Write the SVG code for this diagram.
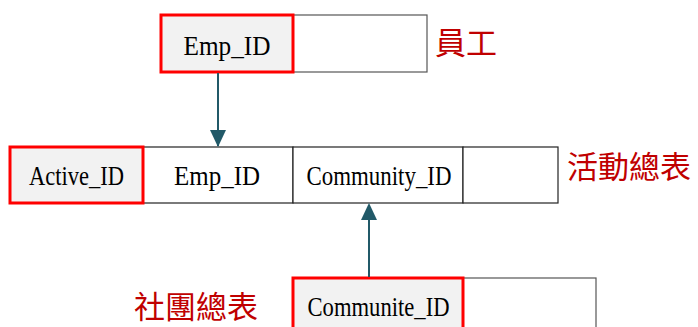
<svg xmlns="http://www.w3.org/2000/svg" width="698" height="327" viewBox="0 0 698 327">
<style>
.key{fill:#f2f2f2;stroke:#ff0000;stroke-width:3}
.cell{fill:#ffffff;stroke:#222222;stroke-width:1.2}
.cellg{fill:#ffffff;stroke:#555555;stroke-width:1.2}
.t{font-family:"Liberation Serif","Times New Roman",serif;font-size:28px;fill:#000;text-anchor:middle}
.lbl{font-family:"Noto Sans CJK TC","Noto Sans CJK SC",sans-serif;font-size:31px;fill:#c00000}
.conn{stroke:#215968;stroke-width:2;fill:none}
</style>
<g id="employee">
<rect class="cellg" x="293" y="15" width="134" height="57"/>
<rect class="key" x="161" y="15" width="132" height="57"/>
<text class="t" x="227" y="55" textLength="87" lengthAdjust="spacingAndGlyphs">Emp_ID</text>
<text class="lbl" x="435" y="54">員工</text>
</g>
<g id="activity">
<rect class="cell" x="143" y="147" width="150" height="56"/>
<rect class="cell" x="293" y="147" width="170" height="56"/>
<rect class="cell" x="463" y="147" width="95" height="56"/>
<rect class="key" x="10" y="147" width="133" height="56"/>
<text class="t" x="76.5" y="185" textLength="95" lengthAdjust="spacingAndGlyphs">Active_ID</text>
<text class="t" x="217" y="185" textLength="86" lengthAdjust="spacingAndGlyphs">Emp_ID</text>
<text class="t" x="379" y="185" textLength="145" lengthAdjust="spacingAndGlyphs">Community_ID</text>
<text class="lbl" x="567" y="178">活動總表</text>
</g>
<g id="community">
<rect class="cellg" x="463" y="278" width="133" height="60"/>
<rect class="key" x="293" y="278" width="170" height="60"/>
<text class="t" x="378.5" y="316" textLength="142" lengthAdjust="spacingAndGlyphs">Communite_ID</text>
<text class="lbl" x="134" y="318">社團總表</text>
</g>
<g id="connectors">
<path d="M218,73 L218,146" class="conn"/>
<path d="M210,130 L226,130 L218,147 Z" fill="#215968"/>
<path d="M369,277 L369,218" class="conn"/>
<path d="M361,220 L377,220 L369,203 Z" fill="#215968"/>
</g>
</svg>
